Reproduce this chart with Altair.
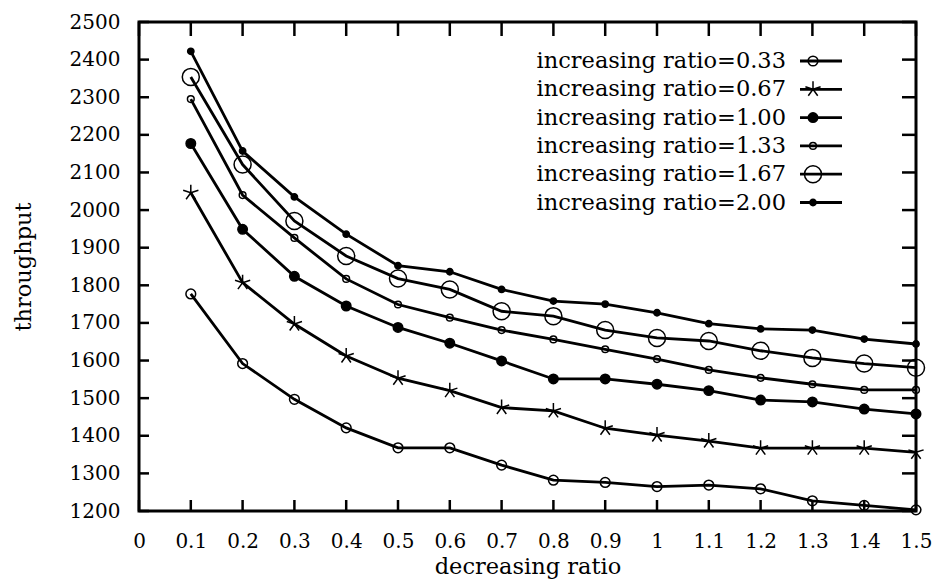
import altair as alt
import pandas as pd

# ---- data ----
x_vals = [0.1, 0.2, 0.3, 0.4, 0.5, 0.6, 0.7, 0.8, 0.9, 1.0, 1.1, 1.2, 1.3, 1.4, 1.5]
series_names = [
    "increasing ratio=0.33",
    "increasing ratio=0.67",
    "increasing ratio=1.00",
    "increasing ratio=1.33",
    "increasing ratio=1.67",
    "increasing ratio=2.00",
]
s033 = [1777, 1592, 1497, 1421, 1368, 1368, 1322, 1282, 1276, 1265, 1269, 1259, 1227, 1215, 1203]
s067 = [2046, 1807, 1697, 1612, 1553, 1520, 1475, 1466, 1420, 1402, 1386, 1367, 1367, 1367, 1356]
s100 = [2177, 1949, 1824, 1745, 1688, 1646, 1599, 1551, 1551, 1537, 1520, 1495, 1490, 1471, 1458]
s133 = [2295, 2040, 1926, 1817, 1749, 1714, 1681, 1656, 1630, 1604, 1575, 1554, 1537, 1522, 1522]
s167 = [2354, 2121, 1971, 1878, 1818, 1789, 1731, 1718, 1681, 1660, 1652, 1626, 1607, 1592, 1581]
s200 = [2422, 2157, 2035, 1936, 1852, 1836, 1789, 1758, 1750, 1727, 1698, 1684, 1681, 1657, 1644]
all_series = [s033, s067, s100, s133, s167, s200]

x_ticks = [0, 0.1, 0.2, 0.3, 0.4, 0.5, 0.6, 0.7, 0.8, 0.9, 1, 1.1, 1.2, 1.3, 1.4, 1.5]
y_ticks = [1200, 1300, 1400, 1500, 1600, 1700, 1800, 1900, 2000, 2100, 2200, 2300, 2400, 2500]

rows = []
for name, vals in zip(series_names, all_series):
    for xv, yv in zip(x_vals, vals):
        rows.append({"series": name, "x": xv, "y": yv})
df = pd.DataFrame(rows)
legend_df = pd.DataFrame({"series": series_names, "row": list(range(len(series_names)))})
xt_df = pd.DataFrame({"x": x_ticks})
yt_df = pd.DataFrame({"y": y_ticks})

# ---- styling ----
W, H = 777, 489
FONT = "DejaVu Serif"
FS_TICK = 20
FS_TEXT = 22.5
STAR = "M0,0L0,-1M0,0L0.951,-0.309M0,0L-0.951,-0.309M0,0L0.588,0.809M0,0L-0.588,0.809"

xscale = alt.Scale(domain=[0, 1.5], nice=False, zero=False)
yscale = alt.Scale(domain=[1200, 2500], nice=False, zero=False)

X_AX = alt.Axis(
    values=x_ticks, format="~g", ticks=False, tickSize=0, domain=False, grid=False,
    labelFont=FONT, labelFontSize=FS_TICK, labelColor="black", labelPadding=20,
    labelFlush=False, labelOverlap=False,
    title="decreasing ratio", titleFont=FONT, titleFontSize=FS_TEXT, titleFontWeight="normal",
    titleColor="black", titleY=55, titleBaseline="middle")
Y_AX = alt.Axis(
    values=y_ticks, format="d", ticks=False, tickSize=0, domain=False, grid=False,
    labelFont=FONT, labelFontSize=FS_TICK, labelColor="black", labelPadding=19,
    labelFlush=False, labelOverlap=False,
    title="throughput", titleFont=FONT, titleFontSize=FS_TEXT, titleFontWeight="normal",
    titleColor="black", titleX=-116, titleY=H / 2, titleAngle=270,
    titleAlign="center", titleBaseline="middle")

def X(field="x"):
    return alt.X(f"{field}:Q", scale=xscale, axis=X_AX, title="decreasing ratio")

def Y(field="y"):
    return alt.Y(f"{field}:Q", scale=yscale, axis=Y_AX, title="throughput")

shape_enc = alt.Shape("series:N", scale=alt.Scale(domain=series_names,
                      range=["circle", STAR, "circle", "circle", "circle", "circle"]), legend=None)
size_enc = alt.Size("series:N", scale=alt.Scale(type="ordinal", domain=series_names,
                    range=[95, 256, 90, 45, 290, 40]), legend=None)
fill_enc = alt.FillOpacity("series:N", scale=alt.Scale(type="ordinal", domain=series_names,
                           range=[0, 0, 1, 0, 0, 1]), legend=None)

base = alt.Chart(df)

lines = base.mark_line(color="black", strokeWidth=2.8).encode(
    x=X(), y=Y(), detail="series:N")

points = base.mark_point(filled=True, fill="black", stroke="black", strokeWidth=1.5, opacity=1).encode(
    x=X(), y=Y(), shape=shape_enc, size=size_enc, fillOpacity=fill_enc)

# inward tick marks on all four sides (gnuplot style), positioned through the scales
TW = 2.5
tick_left = alt.Chart(yt_df).mark_rule(color="black", strokeWidth=TW).encode(
    y=Y(), x=alt.value(0), x2=alt.value(10))
tick_right = alt.Chart(yt_df).mark_rule(color="black", strokeWidth=TW).encode(
    y=Y(), x=alt.value(W - 14), x2=alt.value(W))
tick_bottom = alt.Chart(xt_df).mark_rule(color="black", strokeWidth=TW).encode(
    x=X(), y=alt.value(H - 11), y2=alt.value(H))
tick_top = alt.Chart(xt_df).mark_rule(color="black", strokeWidth=TW).encode(
    x=X(), y=alt.value(0), y2=alt.value(14))

leg = alt.Chart(legend_df).transform_calculate(py="39 + 28.3 * datum.row")
leg_text = leg.mark_text(align="right", baseline="middle", font=FONT, fontSize=FS_TEXT, color="black").encode(
    x=alt.value(647), y=alt.Y("py:Q", scale=None), text="series:N")
leg_rule = leg.mark_rule(color="black", strokeWidth=2.8).encode(
    x=alt.value(661), x2=alt.value(703), y=alt.Y("py:Q", scale=None))
leg_pts = leg.mark_point(filled=True, fill="black", stroke="black", strokeWidth=1.5, opacity=1).encode(
    x=alt.value(674), y=alt.Y("py:Q", scale=None),
    shape=shape_enc, size=size_enc, fillOpacity=fill_enc)

chart = alt.layer(
    lines, points, tick_left, tick_right, tick_bottom, tick_top, leg_rule, leg_pts, leg_text
).properties(
    width=W, height=H, autosize="none",
    padding={"left": 139, "top": 22, "right": 20, "bottom": 73},
    background="white",
).configure_view(stroke="black", strokeWidth=3)

chart.save("out.html", embed_options={"renderer": "svg", "actions": False})
